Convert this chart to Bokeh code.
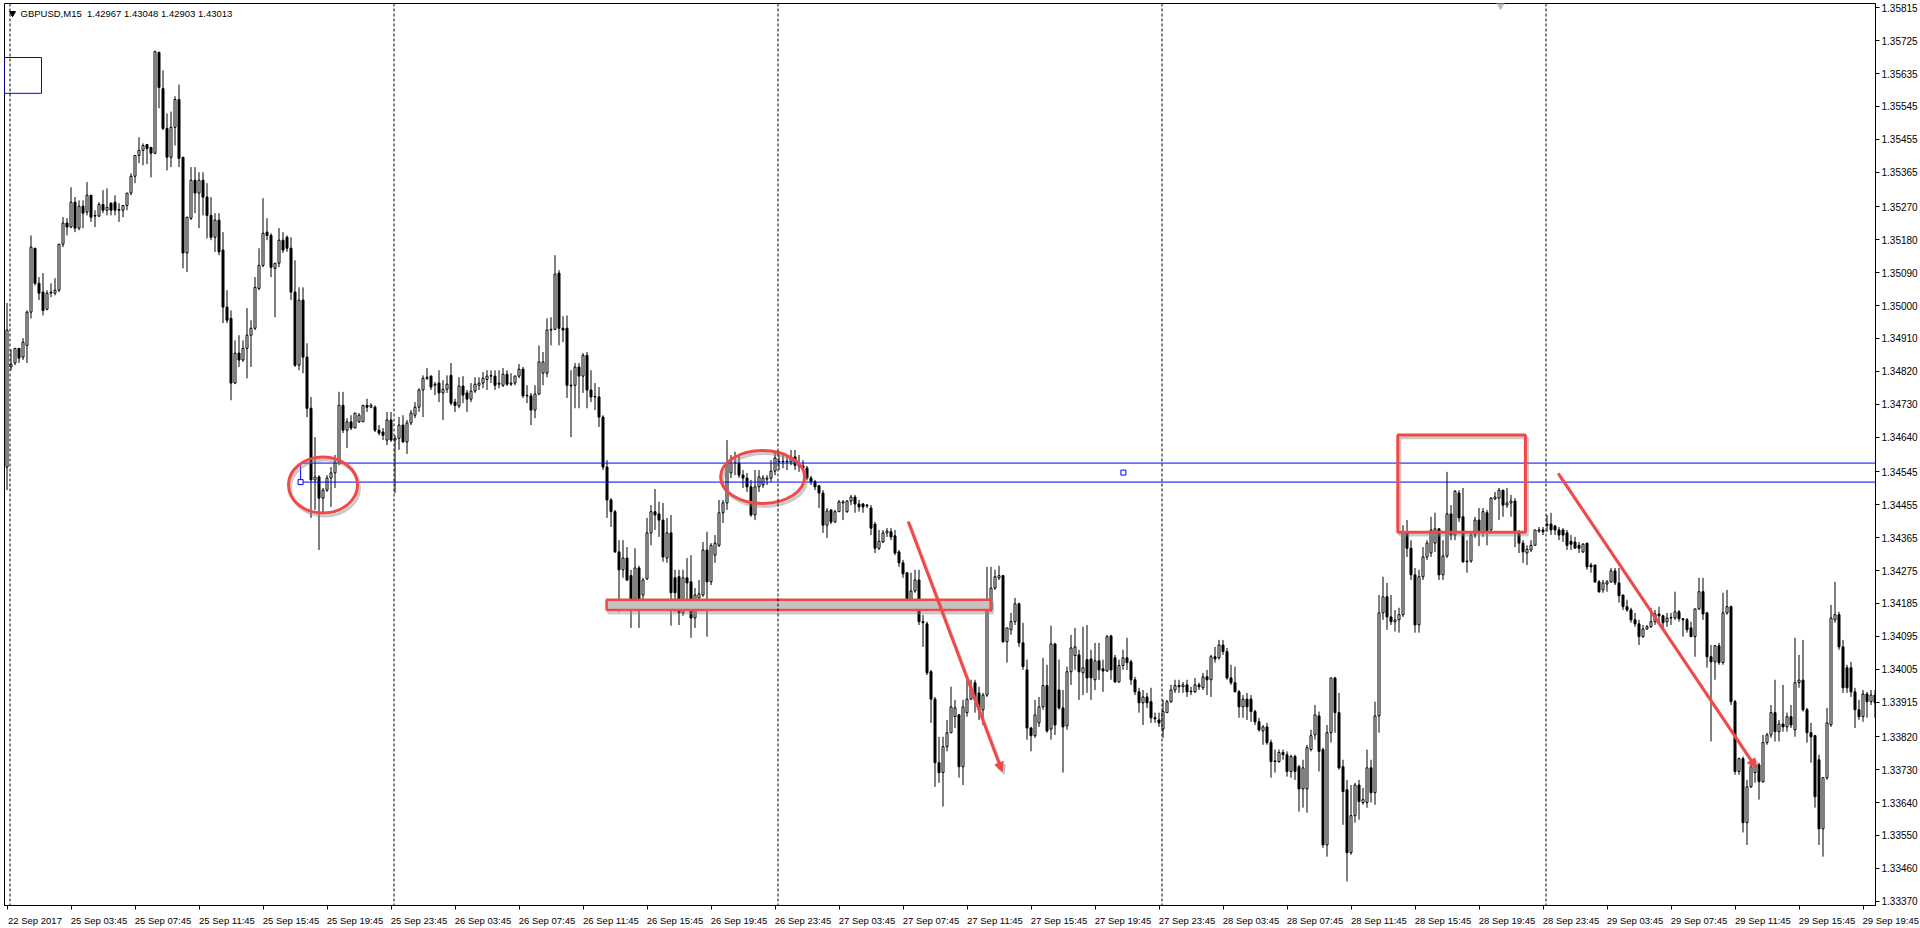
from bokeh.plotting import figure
from bokeh.models import (Range1d, FixedTicker, Span, Label, Arrow, NormalHead,
                          PrintfTickFormatter, ColumnDataSource)
from bokeh.embed import file_html
from bokeh.resources import INLINE

# ---------------- data: GBPUSD M15, one value per bar ----------------
opens = [
1.34558,1.34832,1.34843,1.34883,1.34859,1.34891,1.34982,1.35157,1.35061,1.35037,
1.34990,1.35034,1.35034,1.35042,1.35168,1.35226,1.35215,1.35283,1.35212,1.35272,
1.35256,1.35302,1.35245,1.35245,1.35277,1.35261,1.35280,1.35283,1.35261,1.35261,
1.35274,1.35308,1.35354,1.35411,1.35425,1.35441,1.35433,1.35417,1.35693,1.35594,
1.35485,1.35406,1.35488,1.35564,1.35406,1.35144,1.35239,1.35343,1.35308,1.35343,
1.35297,1.35247,1.35187,1.35234,1.35152,1.34996,1.34965,1.34788,1.34870,1.34851,
1.34883,1.34919,1.34938,1.35047,1.35110,1.35201,1.35192,1.35102,1.35116,1.35179,
1.35187,1.35157,1.35037,1.34837,1.35015,1.34859,1.34719,1.34523,1.34531,1.34473,
1.34495,1.34528,1.34542,1.34572,1.34727,1.34659,1.34682,1.34665,1.34682,1.34682,
1.34727,1.34722,1.34722,1.34659,1.34654,1.34632,1.34687,1.34632,1.34637,1.34673,
1.34627,1.34679,1.34700,1.34722,1.34769,1.34801,1.34807,1.34782,1.34788,1.34761,
1.34771,1.34809,1.34736,1.34725,1.34780,1.34761,1.34744,1.34766,1.34782,1.34788,
1.34798,1.34807,1.34807,1.34785,1.34782,1.34812,1.34785,1.34788,1.34807,1.34826,
1.34753,1.34753,1.34714,1.34758,1.34815,1.34815,1.34933,1.34935,1.35089,1.34938,
1.34938,1.34782,1.34782,1.34832,1.34807,1.34864,1.34769,1.34750,1.34750,1.34695,
1.34558,1.34468,1.34436,1.34326,1.34277,1.34309,1.34261,1.34195,1.34282,1.34208,
1.34252,1.34378,1.34436,1.34430,1.34413,1.34309,1.34378,1.34255,1.34258,1.34159,
1.34255,1.34244,1.34145,1.34200,1.34208,1.34331,1.34244,1.34317,1.34344,1.34433,
1.34460,1.34542,1.34569,1.34569,1.34536,1.34528,1.34504,1.34427,1.34504,1.34509,
1.34525,1.34528,1.34547,1.34572,1.34572,1.34572,1.34572,1.34586,1.34563,1.34561,
1.34555,1.34528,1.34518,1.34507,1.34487,1.34399,1.34441,1.34408,1.34436,1.34460,
1.34436,1.34465,1.34476,1.34457,1.34457,1.34454,1.34446,1.34402,1.34336,1.34353,
1.34378,1.34381,1.34370,1.34326,1.34296,1.34269,1.34195,1.34219,1.34249,1.34135,
1.34129,1.33998,1.33923,1.33749,1.33722,1.33793,1.33831,1.33875,1.33880,1.33738,
1.33886,1.33923,1.33968,1.33940,1.33894,1.33934,1.34167,1.34227,1.34255,1.34261,
1.34080,1.34113,1.34135,1.34184,1.34077,1.34003,1.33844,1.33823,1.33858,1.33902,
1.33960,1.33841,1.34074,1.33948,1.33899,1.33850,1.33998,1.34042,1.34044,1.33995,
1.34031,1.34033,1.33976,1.34028,1.34006,1.34000,1.34096,1.34036,1.33970,1.34015,
1.34036,1.34025,1.33976,1.33943,1.33913,1.33929,1.33916,1.33872,1.33866,1.33841,
1.33886,1.33916,1.33948,1.33960,1.33957,1.33962,1.33943,1.33943,1.33962,1.33954,
1.33984,1.33976,1.34039,1.34036,1.34071,1.34053,1.33981,1.33968,1.33943,1.33902,
1.33923,1.33923,1.33889,1.33861,1.33836,1.33847,1.33804,1.33752,1.33752,1.33777,
1.33771,1.33725,1.33766,1.33738,1.33677,1.33677,1.33785,1.33825,1.33877,1.33785,
1.33524,1.33831,1.33981,1.33886,1.33738,1.33675,1.33503,1.33604,1.33688,1.33640,
1.33640,1.33735,1.33667,1.33877,1.34159,1.34203,1.34148,1.34135,1.34140,1.34154,
1.34381,1.34336,1.34263,1.34126,1.34258,1.34312,1.34323,1.34350,1.34389,1.34263,
1.34315,1.34430,1.34372,1.34487,1.34422,1.34299,1.34301,1.34372,1.34413,1.34381,
1.34433,1.34386,1.34471,1.34473,1.34495,1.34454,1.34460,1.34465,1.34381,1.34350,
1.34323,1.34331,1.34344,1.34383,1.34386,1.34402,1.34402,1.34397,1.34386,1.34386,
1.34378,1.34355,1.34353,1.34344,1.34326,1.34350,1.34290,1.34290,1.34244,1.34222,
1.34238,1.34244,1.34274,1.34241,1.34208,1.34176,1.34167,1.34140,1.34129,1.34094,
1.34115,1.34121,1.34135,1.34156,1.34151,1.34135,1.34145,1.34145,1.34162,1.34143,
1.34140,1.34118,1.34094,1.34170,1.34217,1.34159,1.34039,1.34025,1.34069,1.34023,
1.34159,1.34176,1.33916,1.33725,1.33760,1.33585,1.33683,1.33722,1.33743,1.33697,
1.33804,1.33825,1.33886,1.33834,1.33855,1.33847,1.33875,1.33839,1.33968,1.33975,
1.33894,1.33831,1.33823,1.33757,1.33568,1.33708,1.33853,1.34140,1.34154,1.34066,
1.34009,1.34009,1.33943,1.33894,1.33875,1.33937,1.33916,1.33934]

highs = [
1.35007,1.34880,1.34883,1.34883,1.34911,1.34987,1.35192,1.35157,1.35078,1.35089,
1.35042,1.35061,1.35075,1.35168,1.35242,1.35239,1.35324,1.35297,1.35288,1.35288,
1.35338,1.35302,1.35261,1.35283,1.35316,1.35321,1.35283,1.35302,1.35280,1.35274,
1.35308,1.35362,1.35411,1.35461,1.35444,1.35441,1.35433,1.35698,1.35695,1.35644,
1.35526,1.35531,1.35573,1.35605,1.35406,1.35242,1.35379,1.35379,1.35365,1.35365,
1.35335,1.35297,1.35253,1.35253,1.35201,1.35042,1.34987,1.34905,1.34919,1.34905,
1.34993,1.34960,1.35078,1.35157,1.35294,1.35239,1.35198,1.35116,1.35212,1.35201,
1.35192,1.35187,1.35124,1.35050,1.35050,1.34897,1.34750,1.34640,1.34536,1.34501,
1.34536,1.34558,1.34591,1.34764,1.34764,1.34692,1.34700,1.34706,1.34706,1.34727,
1.34745,1.34733,1.34727,1.34673,1.34665,1.34709,1.34709,1.34645,1.34695,1.34700,
1.34687,1.34714,1.34736,1.34774,1.34809,1.34829,1.34809,1.34791,1.34823,1.34796,
1.34809,1.34843,1.34745,1.34804,1.34807,1.34769,1.34788,1.34804,1.34804,1.34818,
1.34823,1.34823,1.34823,1.34823,1.34829,1.34823,1.34815,1.34809,1.34840,1.34832,
1.34782,1.34761,1.34782,1.34891,1.34873,1.34965,1.34968,1.35138,1.35097,1.34971,
1.34973,1.34823,1.34843,1.34843,1.34870,1.34873,1.34823,1.34788,1.34777,1.34700,
1.34577,1.34473,1.34441,1.34358,1.34358,1.34339,1.34277,1.34336,1.34288,1.34255,
1.34419,1.34454,1.34498,1.34463,1.34460,1.34419,1.34427,1.34277,1.34277,1.34277,
1.34309,1.34317,1.34227,1.34249,1.34353,1.34381,1.34350,1.34372,1.34468,1.34468,
1.34632,1.34591,1.34600,1.34591,1.34550,1.34542,1.34523,1.34550,1.34550,1.34536,
1.34536,1.34577,1.34597,1.34591,1.34591,1.34589,1.34605,1.34605,1.34591,1.34577,
1.34561,1.34534,1.34523,1.34509,1.34495,1.34446,1.34441,1.34441,1.34468,1.34468,
1.34468,1.34482,1.34482,1.34468,1.34460,1.34457,1.34454,1.34408,1.34386,1.34386,
1.34391,1.34391,1.34386,1.34331,1.34304,1.34269,1.34269,1.34277,1.34277,1.34153,
1.34135,1.34003,1.33929,1.33820,1.33820,1.33866,1.33957,1.33921,1.33880,1.33921,
1.33976,1.33976,1.33976,1.33957,1.33940,1.34285,1.34285,1.34277,1.34288,1.34263,
1.34118,1.34159,1.34200,1.34187,1.34132,1.34031,1.33847,1.33921,1.33929,1.34036,
1.34017,1.34124,1.34077,1.34031,1.33948,1.34012,1.34099,1.34118,1.34058,1.34121,
1.34126,1.34058,1.34077,1.34077,1.34031,1.34099,1.34099,1.34044,1.34031,1.34058,
1.34091,1.34031,1.33984,1.33954,1.33948,1.33940,1.33954,1.33886,1.33886,1.33921,
1.33921,1.33962,1.33976,1.33976,1.33970,1.33976,1.33957,1.33981,1.33968,1.33995,
1.34003,1.34044,1.34066,1.34085,1.34085,1.34063,1.34017,1.34012,1.33948,1.33934,
1.33940,1.33934,1.33894,1.33872,1.33852,1.33858,1.33812,1.33785,1.33785,1.33785,
1.33780,1.33771,1.33771,1.33743,1.33757,1.33798,1.33839,1.33907,1.33889,1.33790,
1.33852,1.33981,1.33984,1.33940,1.33757,1.33702,1.33688,1.33694,1.33702,1.33680,
1.33785,1.33757,1.33916,1.34208,1.34258,1.34241,1.34208,1.34167,1.34173,1.34399,
1.34413,1.34358,1.34282,1.34277,1.34339,1.34358,1.34422,1.34433,1.34391,1.34358,
1.34545,1.34454,1.34495,1.34495,1.34501,1.34358,1.34378,1.34422,1.34446,1.34446,
1.34441,1.34476,1.34490,1.34501,1.34495,1.34501,1.34482,1.34473,1.34386,1.34358,
1.34344,1.34358,1.34386,1.34394,1.34394,1.34427,1.34433,1.34399,1.34394,1.34391,
1.34386,1.34372,1.34367,1.34353,1.34350,1.34350,1.34296,1.34290,1.34249,1.34249,
1.34249,1.34282,1.34282,1.34282,1.34208,1.34195,1.34173,1.34159,1.34140,1.34126,
1.34126,1.34173,1.34167,1.34176,1.34154,1.34159,1.34159,1.34217,1.34167,1.34145,
1.34145,1.34135,1.34170,1.34255,1.34255,1.34162,1.34071,1.34071,1.34077,1.34214,
1.34222,1.34179,1.33921,1.33763,1.33766,1.33702,1.33757,1.33757,1.33749,1.33825,
1.33831,1.33907,1.33976,1.33866,1.33962,1.33886,1.33907,1.34091,1.34044,1.34085,
1.33899,1.33858,1.33825,1.33771,1.33708,1.33899,1.34181,1.34244,1.34162,1.34085,
1.34017,1.34025,1.33954,1.33921,1.33948,1.33943,1.33948,1.33948]

lows = [
1.34495,1.34823,1.34837,1.34843,1.34851,1.34843,1.34965,1.35055,1.35015,1.34973,
1.34987,1.35023,1.35028,1.35037,1.35160,1.35192,1.35212,1.35201,1.35206,1.35212,
1.35247,1.35229,1.35215,1.35242,1.35253,1.35247,1.35247,1.35247,1.35229,1.35242,
1.35261,1.35302,1.35335,1.35390,1.35384,1.35387,1.35351,1.35414,1.35540,1.35480,
1.35370,1.35379,1.35438,1.35379,1.35102,1.35092,1.35234,1.35253,1.35212,1.35247,
1.35184,1.35179,1.35147,1.35138,1.34952,1.34952,1.34741,1.34785,1.34832,1.34846,
1.34801,1.34832,1.34933,1.35042,1.35105,1.35179,1.35078,1.34968,1.35105,1.35144,
1.35147,1.35015,1.34832,1.34823,1.34815,1.34695,1.34419,1.34441,1.34331,1.34433,
1.34490,1.34449,1.34501,1.34563,1.34651,1.34610,1.34659,1.34665,1.34679,1.34682,
1.34709,1.34719,1.34654,1.34645,1.34632,1.34618,1.34627,1.34487,1.34605,1.34624,
1.34594,1.34673,1.34692,1.34709,1.34695,1.34796,1.34769,1.34755,1.34736,1.34687,
1.34761,1.34727,1.34709,1.34719,1.34733,1.34709,1.34736,1.34761,1.34769,1.34774,
1.34769,1.34788,1.34769,1.34774,1.34777,1.34780,1.34780,1.34782,1.34801,1.34747,
1.34733,1.34673,1.34692,1.34755,1.34782,1.34804,1.34891,1.34933,1.34891,1.34900,
1.34747,1.34640,1.34719,1.34719,1.34761,1.34719,1.34736,1.34714,1.34668,1.34550,
1.34419,1.34394,1.34323,1.34162,1.34255,1.34246,1.34118,1.34167,1.34118,1.34195,
1.34249,1.34344,1.34386,1.34367,1.34299,1.34296,1.34124,1.34162,1.34126,1.34151,
1.34195,1.34091,1.34118,1.34179,1.34203,1.34094,1.34235,1.34296,1.34339,1.34405,
1.34441,1.34528,1.34536,1.34528,1.34501,1.34490,1.34422,1.34413,1.34490,1.34501,
1.34509,1.34518,1.34536,1.34550,1.34555,1.34550,1.34563,1.34550,1.34545,1.34545,
1.34523,1.34509,1.34495,1.34446,1.34378,1.34364,1.34402,1.34405,1.34436,1.34413,
1.34433,1.34454,1.34433,1.34436,1.34433,1.34446,1.34372,1.34323,1.34331,1.34350,
1.34367,1.34358,1.34317,1.34285,1.34255,1.34190,1.34187,1.34214,1.34126,1.34066,
1.33989,1.33858,1.33683,1.33694,1.33629,1.33780,1.33831,1.33844,1.33708,1.33688,
1.33875,1.33921,1.33886,1.33866,1.33852,1.33929,1.34162,1.34222,1.34249,1.34077,
1.34023,1.34099,1.34126,1.34066,1.34003,1.33812,1.33780,1.33817,1.33847,1.33894,
1.33831,1.33812,1.33825,1.33894,1.33722,1.33839,1.33962,1.34003,1.33921,1.33934,
1.33940,1.33921,1.33948,1.33976,1.33943,1.33998,1.33976,1.33968,1.33968,1.34003,
1.34003,1.33962,1.33934,1.33886,1.33852,1.33899,1.33858,1.33858,1.33847,1.33817,
1.33886,1.33913,1.33940,1.33940,1.33940,1.33929,1.33934,1.33940,1.33948,1.33948,
1.33934,1.33929,1.34023,1.34031,1.34044,1.33976,1.33962,1.33943,1.33872,1.33872,
1.33866,1.33861,1.33852,1.33834,1.33798,1.33798,1.33708,1.33722,1.33749,1.33757,
1.33711,1.33708,1.33702,1.33615,1.33626,1.33612,1.33780,1.33812,1.33725,1.33516,
1.33492,1.33804,1.33831,1.33730,1.33579,1.33424,1.33497,1.33585,1.33593,1.33634,
1.33626,1.33640,1.33634,1.33831,1.34140,1.34113,1.34126,1.34108,1.34105,1.34148,
1.34312,1.34249,1.34105,1.34105,1.34249,1.34304,1.34312,1.34326,1.34249,1.34249,
1.34309,1.34358,1.34358,1.34408,1.34296,1.34269,1.34296,1.34364,1.34342,1.34367,
1.34344,1.34381,1.34468,1.34413,1.34422,1.34446,1.34422,1.34339,1.34323,1.34296,
1.34290,1.34326,1.34344,1.34378,1.34372,1.34381,1.34372,1.34372,1.34358,1.34353,
1.34331,1.34331,1.34336,1.34323,1.34323,1.34277,1.34269,1.34241,1.34214,1.34214,
1.34217,1.34241,1.34235,1.34187,1.34167,1.34162,1.34132,1.34121,1.34071,1.34091,
1.34113,1.34118,1.34126,1.34126,1.34113,1.34121,1.34126,1.34140,1.34135,1.34094,
1.34105,1.34094,1.34039,1.34167,1.34140,1.34009,1.33807,1.33976,1.34017,1.34017,
1.34154,1.33907,1.33716,1.33716,1.33558,1.33524,1.33680,1.33694,1.33648,1.33694,
1.33798,1.33817,1.33807,1.33807,1.33834,1.33834,1.33844,1.33820,1.33954,1.33889,
1.33804,1.33749,1.33626,1.33524,1.33492,1.33702,1.33847,1.34132,1.34058,1.33940,
1.33940,1.33929,1.33844,1.33866,1.33861,1.33872,1.33907,1.33872]

closes = [
1.34933,1.34840,1.34883,1.34856,1.34900,1.34982,1.35160,1.35061,1.35034,1.34987,
1.35034,1.35037,1.35042,1.35168,1.35226,1.35215,1.35283,1.35212,1.35272,1.35253,
1.35302,1.35242,1.35245,1.35277,1.35261,1.35269,1.35261,1.35261,1.35263,1.35274,
1.35308,1.35354,1.35411,1.35425,1.35438,1.35430,1.35417,1.35695,1.35597,1.35485,
1.35406,1.35488,1.35564,1.35403,1.35144,1.35242,1.35343,1.35308,1.35343,1.35297,
1.35247,1.35187,1.35234,1.35147,1.34996,1.34960,1.34788,1.34870,1.34851,1.34883,
1.34919,1.34938,1.35050,1.35110,1.35198,1.35192,1.35105,1.35116,1.35179,1.35152,
1.35157,1.35037,1.34837,1.35015,1.34859,1.34719,1.34523,1.34531,1.34473,1.34495,
1.34528,1.34542,1.34572,1.34727,1.34659,1.34682,1.34665,1.34706,1.34700,1.34727,
1.34722,1.34727,1.34659,1.34651,1.34645,1.34687,1.34632,1.34637,1.34673,1.34627,
1.34679,1.34706,1.34722,1.34769,1.34801,1.34804,1.34777,1.34785,1.34761,1.34771,
1.34785,1.34733,1.34727,1.34780,1.34755,1.34744,1.34766,1.34785,1.34788,1.34801,
1.34807,1.34807,1.34782,1.34788,1.34812,1.34785,1.34788,1.34807,1.34826,1.34753,
1.34753,1.34714,1.34758,1.34846,1.34846,1.34933,1.34935,1.35086,1.34938,1.34933,
1.34782,1.34780,1.34832,1.34807,1.34864,1.34769,1.34750,1.34750,1.34695,1.34558,
1.34468,1.34436,1.34326,1.34277,1.34309,1.34249,1.34195,1.34282,1.34195,1.34249,
1.34378,1.34436,1.34427,1.34413,1.34312,1.34378,1.34214,1.34214,1.34159,1.34255,
1.34241,1.34145,1.34208,1.34211,1.34331,1.34244,1.34344,1.34350,1.34433,1.34460,
1.34569,1.34569,1.34569,1.34536,1.34528,1.34504,1.34427,1.34504,1.34531,1.34528,
1.34528,1.34547,1.34583,1.34572,1.34572,1.34574,1.34586,1.34563,1.34561,1.34555,
1.34528,1.34518,1.34504,1.34487,1.34399,1.34438,1.34408,1.34436,1.34463,1.34463,
1.34465,1.34476,1.34457,1.34449,1.34449,1.34452,1.34391,1.34336,1.34355,1.34378,
1.34383,1.34367,1.34323,1.34296,1.34266,1.34195,1.34219,1.34249,1.34135,1.34132,
1.33995,1.33923,1.33749,1.33722,1.33793,1.33831,1.33902,1.33899,1.33738,1.33902,
1.33923,1.33951,1.33921,1.33894,1.33934,1.34167,1.34227,1.34258,1.34261,1.34080,
1.34118,1.34135,1.34184,1.34077,1.34012,1.33844,1.33823,1.33880,1.33902,1.33960,
1.33836,1.34074,1.33852,1.33899,1.33847,1.33998,1.34063,1.34066,1.33998,1.34009,
1.33981,1.33981,1.34028,1.34003,1.34000,1.34094,1.34003,1.33970,1.34015,1.34036,
1.34023,1.33976,1.33943,1.33913,1.33929,1.33913,1.33872,1.33869,1.33858,1.33889,
1.33916,1.33948,1.33960,1.33957,1.33962,1.33943,1.33945,1.33962,1.33957,1.33984,
1.33976,1.34039,1.34033,1.34071,1.34053,1.33981,1.33968,1.33943,1.33902,1.33923,
1.33902,1.33889,1.33861,1.33839,1.33847,1.33804,1.33752,1.33754,1.33777,1.33771,
1.33725,1.33766,1.33725,1.33677,1.33735,1.33790,1.33823,1.33880,1.33780,1.33524,
1.33831,1.33981,1.33886,1.33735,1.33670,1.33503,1.33604,1.33688,1.33643,1.33648,
1.33735,1.33667,1.33877,1.34159,1.34203,1.34148,1.34135,1.34140,1.34154,1.34381,
1.34336,1.34263,1.34126,1.34258,1.34312,1.34350,1.34386,1.34389,1.34263,1.34315,
1.34430,1.34372,1.34492,1.34419,1.34299,1.34301,1.34372,1.34413,1.34381,1.34436,
1.34381,1.34473,1.34476,1.34495,1.34454,1.34460,1.34465,1.34381,1.34350,1.34326,
1.34333,1.34344,1.34386,1.34386,1.34381,1.34399,1.34386,1.34386,1.34372,1.34372,
1.34344,1.34347,1.34336,1.34336,1.34347,1.34285,1.34285,1.34244,1.34217,1.34241,
1.34244,1.34274,1.34241,1.34206,1.34176,1.34167,1.34140,1.34129,1.34094,1.34115,
1.34121,1.34135,1.34156,1.34151,1.34132,1.34145,1.34145,1.34162,1.34143,1.34140,
1.34113,1.34094,1.34170,1.34217,1.34156,1.34039,1.34025,1.34069,1.34023,1.34159,
1.34176,1.33916,1.33725,1.33760,1.33585,1.33683,1.33738,1.33746,1.33697,1.33804,
1.33825,1.33886,1.33834,1.33855,1.33847,1.33875,1.33852,1.33968,1.33975,1.33894,
1.33831,1.33820,1.33656,1.33568,1.33708,1.33858,1.34145,1.34154,1.34066,1.33954,
1.33954,1.33943,1.33894,1.33875,1.33937,1.33916,1.33934,1.33913]

price_ticks = [1.35815, 1.35725, 1.35635, 1.35545, 1.35455, 1.35365, 1.35270,
               1.35180, 1.35090, 1.35000, 1.34910, 1.34820, 1.34730, 1.34640,
               1.34545, 1.34455, 1.34365, 1.34275, 1.34185, 1.34095, 1.34005,
               1.33915, 1.33820, 1.33730, 1.33640, 1.33550, 1.33460, 1.33370]

time_labels = ["22 Sep 2017", "25 Sep 03:45", "25 Sep 07:45", "25 Sep 11:45",
               "25 Sep 15:45", "25 Sep 19:45", "25 Sep 23:45", "26 Sep 03:45",
               "26 Sep 07:45", "26 Sep 11:45", "26 Sep 15:45", "26 Sep 19:45",
               "26 Sep 23:45", "27 Sep 03:45", "27 Sep 07:45", "27 Sep 11:45",
               "27 Sep 15:45", "27 Sep 19:45", "27 Sep 23:45", "28 Sep 03:45",
               "28 Sep 07:45", "28 Sep 11:45", "28 Sep 15:45", "28 Sep 19:45",
               "28 Sep 23:45", "29 Sep 03:45", "29 Sep 07:45", "29 Sep 11:45",
               "29 Sep 15:45", "29 Sep 19:45"]
label_bars = [16 * k for k in range(len(time_labels))]   # one label every 4 hours
day_start_bars = [1, 97, 193, 289, 385]                    # 00:00 bars (period separators)

header = "GBPUSD,M15\u00a0 1.42967 1.43048 1.42903 1.43013"

# ---------------- figure ----------------
n = len(closes)
xs = list(range(n))
tops, bots, fills = [], [], []
for o, c in zip(opens, closes):
    t, b = max(o, c), min(o, c)
    if t - b < 0.000015:
        t = b + 0.000015
    tops.append(t)
    bots.append(b)
    fills.append("white" if c >= o else "black")

src = ColumnDataSource(dict(x=xs, h=highs, l=lows, top=tops, bot=bots, fill=fills))

RED = "#f24848"
BLUE = "#0000ff"
SHADOW = "#8a8a8a"
FONT = "Liberation Sans"
X0, X1 = -0.625, 467.125
Y0, Y1 = 1.333582, 1.358268

p = figure(width=1920, height=928, output_backend="svg", toolbar_location=None,
           x_range=Range1d(X0, X1), y_range=Range1d(Y0, Y1),
           y_axis_location="right", min_border_left=4, min_border_right=45,
           min_border_top=3, min_border_bottom=22,
           background_fill_color="white", border_fill_color="white",
           outline_line_color="black", outline_line_width=1)
p.grid.visible = False

# price axis (right)
p.yaxis.ticker = FixedTicker(ticks=price_ticks)
p.yaxis.formatter = PrintfTickFormatter(format="%.5f")
p.yaxis.major_tick_out = 4
p.yaxis.major_label_standoff = 2
p.yaxis.major_label_text_font_size = "10px"

# time axis (below): small tick at each labelled bar, text starting at the tick.
# Labels are centred, so each one is placed half a label width to the right of its bar;
# the last one (whose centre would fall outside the frame) sits on its own bar and is
# padded on the left with non-breaking spaces of the same width as the text.
LABEL_SHIFT = 7.0   # half a label width, in bars
label_pos, overrides = [], {}
for b, t in zip(label_bars, time_labels):
    if b + LABEL_SHIFT < X1:
        pos, txt = b + LABEL_SHIFT, t
    else:
        pos, txt = b, "\u00a0" * 21 + t
    label_pos.append(pos)
    overrides[pos] = txt
p.xaxis.ticker = FixedTicker(ticks=label_pos, minor_ticks=label_bars)
p.xaxis.major_label_overrides = overrides
p.xaxis.major_tick_out = 0
p.xaxis.minor_tick_out = 4
p.xaxis.minor_tick_line_color = "black"
p.xaxis.major_label_standoff = 5
p.xaxis.major_label_text_font_size = "9.5px"

for ax in (p.xaxis, p.yaxis):
    ax.major_tick_in = 0
    ax.minor_tick_in = 0
    ax.major_tick_line_color = "black"
    ax.axis_line_color = "black"
    ax.major_label_text_font = FONT
    ax.major_label_text_color = "black"
p.yaxis.minor_tick_out = 0

# period separators
for b in day_start_bars:
    p.add_layout(Span(location=b - 0.25, dimension="height", line_color="black",
                      line_dash="3 2", line_width=1))

# candles
p.segment(x0="x", y0="h", x1="x", y1="l", source=src, line_color="black", line_width=1)
p.vbar(x="x", width=0.5, top="top", bottom="bot", source=src,
       fill_color="fill", line_color="black", line_width=1)

# blue objects
p.quad(left=[-0.625], right=[8.625], top=[1.35679], bottom=[1.35581],
       fill_alpha=0, line_color=BLUE, line_width=1)
p.quad(left=[73.4], right=[480], top=[1.34569], bottom=[1.34517],
       fill_alpha=0, line_color=BLUE, line_width=1)
p.scatter(x=[73.4, 279.1], y=[1.34517, 1.34543], marker="square", size=5,
          fill_color="white", line_color=BLUE, line_width=1)

# red hand-drawn marks (gray shadow first)
SH_X, SH_Y = 0.5, 0.00008
ellipses = [(79.0, 1.34509, 69, 56), (188.9, 1.34531, 84, 53)]
for ex, ey, ew, eh in ellipses:
    p.ellipse(x=[ex + SH_X], y=[ey - SH_Y], width=ew, height=eh,
              width_units="screen", height_units="screen",
              fill_alpha=0, line_color=SHADOW, line_alpha=0.45, line_width=3)
    p.ellipse(x=[ex], y=[ey], width=ew, height=eh,
              width_units="screen", height_units="screen",
              fill_alpha=0, line_color=RED, line_width=3)

p.quad(left=[149.9 + SH_X], right=[245.9 + SH_X], top=[1.34195 - SH_Y], bottom=[1.34167 - SH_Y],
       fill_alpha=0, line_color=SHADOW, line_alpha=0.45, line_width=3)
p.quad(left=[149.9], right=[245.9], top=[1.34195], bottom=[1.34167],
       fill_color="#c4c4c4", line_color=RED, line_width=2.5)

p.quad(left=[347.7 + SH_X], right=[379.6 + SH_X], top=[1.34646 - SH_Y], bottom=[1.34380 - SH_Y],
       fill_alpha=0, line_color=SHADOW, line_alpha=0.45, line_width=3)
p.quad(left=[347.7], right=[379.6], top=[1.34646], bottom=[1.34380],
       fill_alpha=0, line_color=RED, line_width=3)

arrows = [(225.3, 1.34409, 248.8, 1.33725), (387.8, 1.34541, 437.3, 1.33735)]
for x0, y0, x1, y1 in arrows:
    p.add_layout(Arrow(x_start=x0 + SH_X, y_start=y0 - SH_Y, x_end=x1 + SH_X, y_end=y1 - SH_Y,
                       line_color=SHADOW, line_alpha=0.45, line_width=3,
                       end=NormalHead(size=9, fill_color=SHADOW, fill_alpha=0.45,
                                      line_color=SHADOW, line_alpha=0.45)))
    p.add_layout(Arrow(x_start=x0, y_start=y0, x_end=x1, y_end=y1,
                       line_color=RED, line_width=3,
                       end=NormalHead(size=9, fill_color=RED, line_color=RED)))

# header and small markers
p.scatter(x=[1.375], y=[1.35800], marker="inverted_triangle", size=6,
          fill_color="black", line_color="black")
p.scatter(x=[373.4], y=[1.35824], marker="inverted_triangle", size=9,
          fill_color="#bdbdbd", line_color="#bdbdbd")
p.add_layout(Label(x=3.375, y=1.358008, text=header, text_font=FONT,
                   text_font_size="9.5px", text_baseline="middle", text_color="black"))

html = file_html(p, INLINE, title="GBPUSD,M15")
html = html.replace("<head>", "<head><style>html,body{margin:0;padding:0;overflow:hidden;}</style>", 1)
open("out.html", "w").write(html)
